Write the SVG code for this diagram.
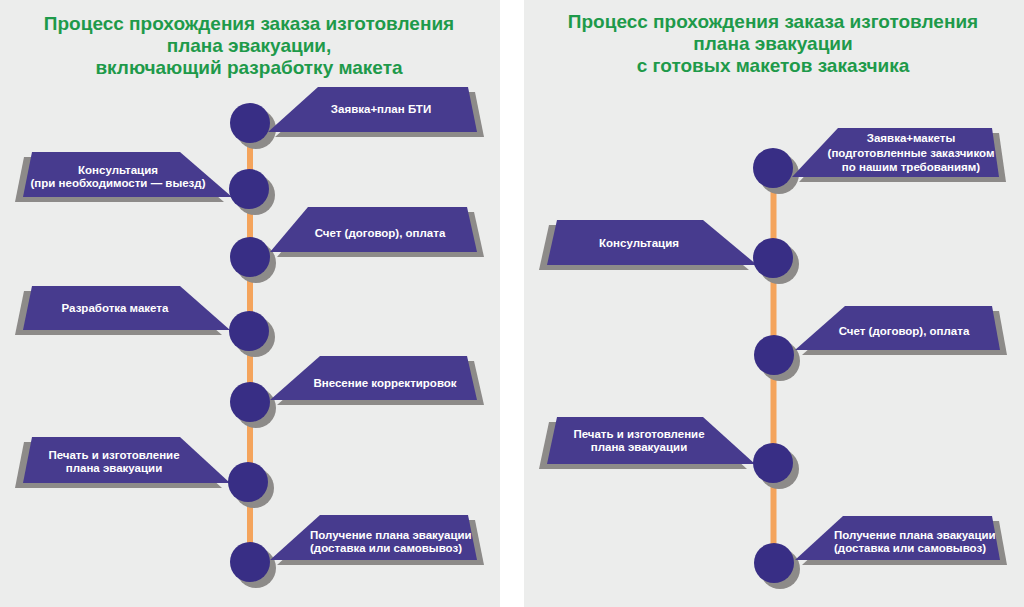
<svg xmlns="http://www.w3.org/2000/svg" width="1024" height="607" viewBox="0 0 1024 607">
<style>
.bg{fill:#ecedec}
.title{font-family:"Liberation Sans",Arial,sans-serif;font-weight:bold;font-size:19px;fill:#1e9a4a;text-anchor:middle}
.box{fill:#473b8e}
.sh{fill:#8d8b89}
.dot{fill:#382e85}
.line{stroke:#f4a45c;stroke-width:6;fill:none}
.lbl{font-family:"Liberation Sans",Arial,sans-serif;font-weight:bold;font-size:11.5px;fill:#ffffff;text-anchor:middle}
.lbl-l{font-family:"Liberation Sans",Arial,sans-serif;font-weight:bold;font-size:11.5px;fill:#ffffff;text-anchor:start}
</style>
<rect class="bg" x="0" y="0" width="500" height="607"/>
<rect class="bg" x="524" y="0" width="500" height="607"/>
<rect x="500" y="0" width="24" height="607" fill="#ffffff"/>

<g id="titles">
<text class="title" x="249" y="30">Процесс прохождения заказа изготовления</text>
<text class="title" x="249" y="52">плана эвакуации,</text>
<text class="title" x="249" y="74">включающий разработку макета</text>
<text class="title" x="773" y="28">Процесс прохождения заказа изготовления</text>
<text class="title" x="773" y="50">плана эвакуации</text>
<text class="title" x="773" y="72">с готовых макетов заказчика</text>
</g>

<g id="connectors">
<line class="line" x1="250" y1="123" x2="250" y2="562"/>
<line class="line" x1="773.5" y1="168" x2="773.5" y2="563"/>
</g>

<g id="L1">
<polygon class="sh" transform="translate(7,5)" points="318,87 468,87 477,132 268,132"/>
<circle class="sh" cx="256" cy="129" r="20"/>
<polygon class="box" points="318,87 468,87 477,132 268,132"/>
<circle class="dot" cx="250" cy="123" r="20"/>
<text class="lbl" x="381" y="113">Заявка+план БТИ</text>
</g>

<g id="L2">
<polygon class="sh" transform="translate(-8,5)" points="32,152 180,152 232,197 23,197"/>
<circle class="sh" cx="255" cy="195" r="20"/>
<polygon class="box" points="32,152 180,152 232,197 23,197"/>
<circle class="dot" cx="249" cy="189" r="20"/>
<text class="lbl" x="118" y="174">Консультация</text>
<text class="lbl" x="118" y="187">(при необходимости — выезд)</text>
</g>

<g id="L3">
<polygon class="sh" transform="translate(7,5)" points="308,207 467,207 477,252 270,252"/>
<circle class="sh" cx="256" cy="263" r="20"/>
<polygon class="box" points="308,207 467,207 477,252 270,252"/>
<circle class="dot" cx="250" cy="257" r="20"/>
<text class="lbl" x="380" y="237">Счет (договор), оплата</text>
</g>

<g id="L4">
<polygon class="sh" transform="translate(-8,5)" points="32,286 180,286 230,330 23,330"/>
<circle class="sh" cx="255" cy="337" r="20"/>
<polygon class="box" points="32,286 180,286 230,330 23,330"/>
<circle class="dot" cx="249" cy="331" r="20"/>
<text class="lbl" x="115" y="312">Разработка макета</text>
</g>

<g id="L5">
<polygon class="sh" transform="translate(7,5)" points="320,356 467,356 477,400 270,400"/>
<circle class="sh" cx="256" cy="408" r="20"/>
<polygon class="box" points="320,356 467,356 477,400 270,400"/>
<circle class="dot" cx="250" cy="402" r="20"/>
<text class="lbl" x="385" y="387">Внесение корректировок</text>
</g>

<g id="L6">
<polygon class="sh" transform="translate(-8,5)" points="32,437 180,437 230,483 23,483"/>
<circle class="sh" cx="254" cy="488" r="20"/>
<polygon class="box" points="32,437 180,437 230,483 23,483"/>
<circle class="dot" cx="248" cy="482" r="20"/>
<text class="lbl" x="114" y="459">Печать и изготовление</text>
<text class="lbl" x="114" y="472">плана эвакуации</text>
</g>

<g id="L7">
<polygon class="sh" transform="translate(7,5)" points="320,515 468,515 477,560 270,560"/>
<circle class="sh" cx="256" cy="568" r="20"/>
<polygon class="box" points="320,515 468,515 477,560 270,560"/>
<circle class="dot" cx="250" cy="562" r="20"/>
<text class="lbl-l" x="310" y="539">Получение плана эвакуации</text>
<text class="lbl-l" x="310" y="552">(доставка или самовывоз)</text>
</g>

<g id="R1">
<polygon class="sh" transform="translate(7,5)" points="838,128 992,128 999,177 792,177"/>
<circle class="sh" cx="779" cy="174" r="20"/>
<polygon class="box" points="838,128 992,128 999,177 792,177"/>
<circle class="dot" cx="773" cy="168" r="20"/>
<text class="lbl" x="911" y="142">Заявка+макеты</text>
<text class="lbl" x="911" y="157">(подготовленные заказчиком</text>
<text class="lbl" x="911" y="171">по нашим требованиям)</text>
</g>

<g id="R2">
<polygon class="sh" transform="translate(-8,5)" points="557,220 703,220 757,265 547,265"/>
<circle class="sh" cx="779" cy="264" r="20"/>
<polygon class="box" points="557,220 703,220 757,265 547,265"/>
<circle class="dot" cx="773" cy="258" r="20"/>
<text class="lbl" x="639" y="247">Консультация</text>
</g>

<g id="R3">
<polygon class="sh" transform="translate(7,5)" points="845,306 992,306 1000,350 795,350"/>
<circle class="sh" cx="780" cy="361" r="20"/>
<polygon class="box" points="845,306 992,306 1000,350 795,350"/>
<circle class="dot" cx="774" cy="355" r="20"/>
<text class="lbl" x="904" y="335">Счет (договор), оплата</text>
</g>

<g id="R4">
<polygon class="sh" transform="translate(-8,5)" points="557,417 703,417 755,464 547,464"/>
<circle class="sh" cx="779" cy="469" r="20"/>
<polygon class="box" points="557,417 703,417 755,464 547,464"/>
<circle class="dot" cx="773" cy="463" r="20"/>
<text class="lbl" x="639" y="438">Печать и изготовление</text>
<text class="lbl" x="639" y="451">плана эвакуации</text>
</g>

<g id="R5">
<polygon class="sh" transform="translate(7,5)" points="843,516 992,516 1000,560 795,560"/>
<circle class="sh" cx="780" cy="569" r="20"/>
<polygon class="box" points="843,516 992,516 1000,560 795,560"/>
<circle class="dot" cx="774" cy="563" r="20"/>
<text class="lbl-l" x="834" y="539">Получение плана эвакуации</text>
<text class="lbl-l" x="834" y="552">(доставка или самовывоз)</text>
</g>
</svg>
